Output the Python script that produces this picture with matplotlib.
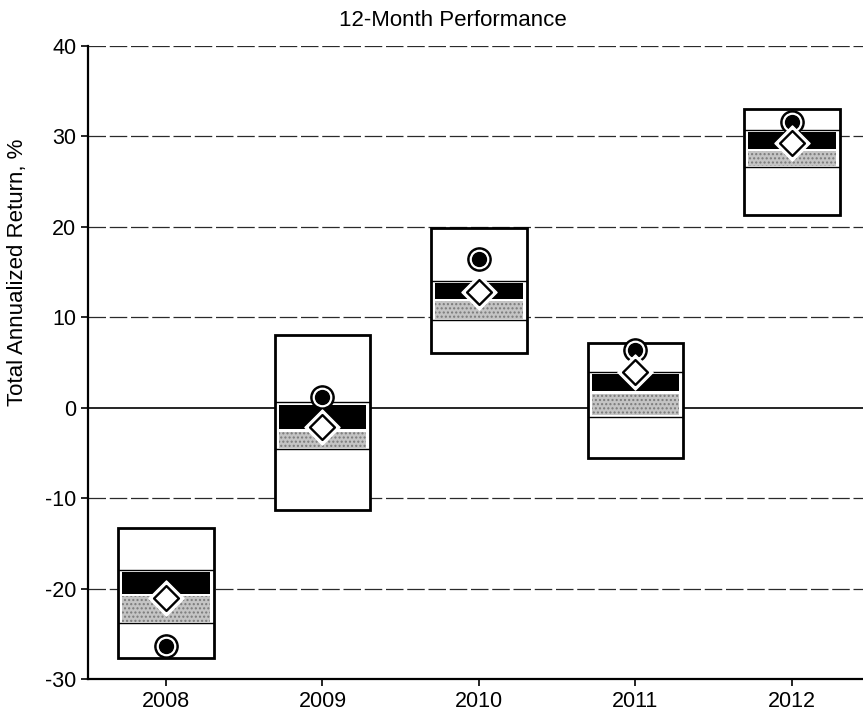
import matplotlib
matplotlib.use("Agg")
import matplotlib.pyplot as plt
import numpy as np

plt.rcParams['font.family'] = ['Liberation Sans', 'DejaVu Sans']
plt.rcParams['axes.unicode_minus'] = False

# Peer-group return ranges per calendar year (%)
years = ['2008', '2009', '2010', '2011', '2012']
range_max = [-13.3, 8.0, 19.9, 7.2, 33.0]
quart_25 = [-17.9, 0.6, 14.0, 4.0, 30.7]
median = [-20.7, -2.5, 11.9, 1.7, 28.5]
quart_75 = [-23.8, -4.6, 9.7, -1.0, 26.6]
range_min = [-27.7, -11.3, 6.1, -5.6, 21.3]
fund_return = [-26.4, 1.2, 16.4, 6.4, 31.6]
benchmark_return = [-21.0, -2.1, 12.8, 3.9, 29.3]

fig = plt.figure(figsize=(8.63, 7.25), dpi=100)
ax = fig.add_axes([0.102, 0.0634, 0.898, 0.8732])

x = np.arange(len(years))
w = 0.61
inner = 0.56

# gridlines
for yv in [-20, -10, 10, 20, 30, 40]:
    ax.axhline(yv, color='#2a2a2a', lw=0.9, dashes=(14, 3), zorder=1)
ax.axhline(0, color='black', lw=1.2, zorder=1)

lo = np.array(range_min)
hi = np.array(range_max)
q1 = np.array(quart_25)
md = np.array(median)
q3 = np.array(quart_75)

# outer range box
ax.bar(x, hi - lo, bottom=lo, width=w, color='white', edgecolor='black',
       linewidth=2.0, zorder=3)
# second quartile (dark) and third quartile (light)
ax.bar(x, (q1 - md) - 0.35, bottom=md + 0.1, width=inner, color='black',
       linewidth=0, zorder=4)
ax.bar(x, (md - q3) - 0.3, bottom=q3 + 0.15, width=inner, color='#c4c4c4',
       hatch='....', edgecolor='#7a7a7a', linewidth=0, zorder=4)
# quartile separator lines
for xi, a, b in zip(x, q1, q3):
    ax.hlines([a, b], xi - w / 2, xi + w / 2, color='black', lw=1.0, zorder=5)

# fund marker: black dot ringed in white and black
ax.scatter(x, fund_return, s=280, color='black', zorder=6)
ax.scatter(x, fund_return, s=175, color='white', zorder=7)
ax.scatter(x, fund_return, s=100, color='black', zorder=8)
# benchmark marker: white diamond with halo
ax.scatter(x, benchmark_return, marker='D', s=320, color='white', zorder=9)
ax.scatter(x, benchmark_return, marker='D', s=160, facecolor='white',
           edgecolor='black', linewidth=1.7, zorder=10)

ax.set_xlim(-0.498, 4.454)
ax.set_ylim(-30, 40)
ax.set_yticks(np.arange(-30, 41, 10))
ax.set_xticks(x)
ax.set_xticklabels(years)
ax.tick_params(axis='both', labelsize=15.5, length=5, width=1.2,
               direction='out')

for s in ['top', 'right']:
    ax.spines[s].set_visible(False)
for s in ['left', 'bottom']:
    ax.spines[s].set_linewidth(1.6)

ax.set_ylabel('Total Annualized Return, %', fontsize=16)
ax.yaxis.set_label_coords(-0.078, 0.643)
fig.text(0.525, 0.972, '12-Month Performance', ha='center', va='center',
         fontsize=16)

fig.savefig('out.png', dpi=100)
